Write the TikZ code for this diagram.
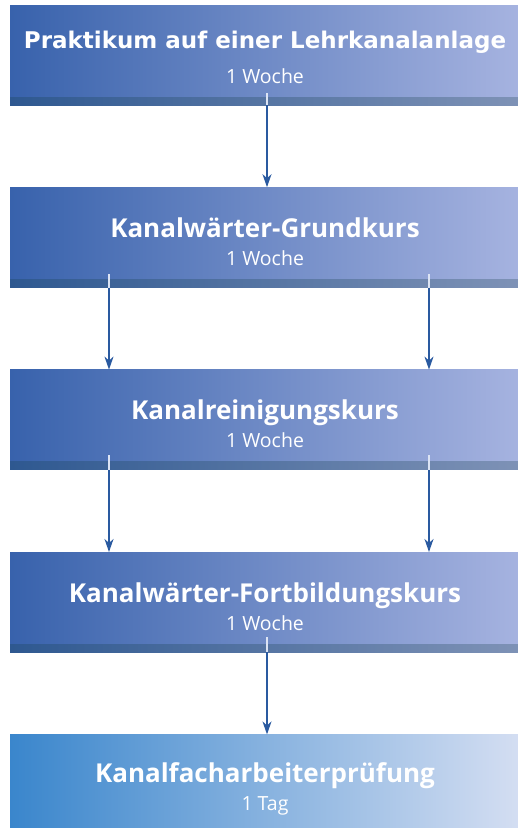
\documentclass[tikz,border=0pt]{standalone}
\usepackage{fontspec}
\setmainfont{Open Sans}
\newfontfamily\wideface{DejaVu Sans}
\usetikzlibrary{positioning,arrows.meta}
\definecolor{boxdark}{HTML}{3862AC}
\definecolor{boxlight}{HTML}{A6B3E0}
\definecolor{banddark}{HTML}{2E5890}
\definecolor{bandlight}{HTML}{7E92B6}
\definecolor{examdark}{HTML}{3A86CC}
\definecolor{examlight}{HTML}{D4DEF2}
\definecolor{arrowblue}{HTML}{2A5AA0}
\definecolor{stubwhite}{HTML}{DCE4F4}
\newcommand{\kurs}[2]{{\bfseries\fontsize{26}{28}\selectfont\rule{0pt}{28pt}#1}\\{#2}}
\tikzset{
  course/.style={rectangle,minimum width=510pt,minimum height=100pt,inner sep=0pt,
    text=white,align=center,font=\fontsize{19.5}{28}\selectfont,
    left color=boxdark,right color=boxlight,
    path picture={\shade[left color=banddark,right color=bandlight]
      (path picture bounding box.south west) rectangle ([yshift=8pt]path picture bounding box.south east);}},
  exam/.style={course,left color=examdark,right color=examlight,path picture={}},
  flow/.style={draw=arrowblue,line width=1.5pt,-{Stealth[length=13pt,width=9pt,inset=4pt]}},
  stub/.style={draw=stubwhite,line width=1.5pt}
}
\begin{document}
\begin{tikzpicture}[node distance=82pt]
  \useasboundingbox (0,0) rectangle (518pt,-828pt);
  \node[course] (praktikum) at (265pt,-55pt) {{\wideface\bfseries\fontsize{23}{28}\selectfont\rule{0pt}{22pt}Praktikum auf einer Lehrkanalanlage}\\[7pt]1 Woche};
  \node[course,below=of praktikum] (grundkurs) {\kurs{Kanalwärter-Grundkurs}{1 Woche}};
  \node[course,below=of grundkurs] (reinigung) {\kurs{Kanalreinigungskurs}{1 Woche}};
  \node[course,below=of reinigung] (fortbildung) {\kurs{Kanalwärter-Fortbildungskurs}{1 Woche}};
  \node[exam,below=of fortbildung] (pruefung) {\kurs{Kanalfacharbeiterprüfung}{1 Tag}};
  % stubs inside the boxes
  \draw[stub] ([xshift=2pt]praktikum.south) -- ++(0,12pt);
  \draw[stub] ([xshift=-156pt]grundkurs.south) -- ++(0,14pt);
  \draw[stub] ([xshift=164pt]grundkurs.south) -- ++(0,14pt);
  \draw[stub] ([xshift=-156pt]reinigung.south) -- ++(0,15pt);
  \draw[stub] ([xshift=164pt]reinigung.south) -- ++(0,15pt);
  \draw[stub] ([xshift=2pt]fortbildung.south) -- ++(0,15pt);
  % arrows
  \draw[flow] ([xshift=2pt]praktikum.south) -- ([xshift=2pt]grundkurs.north);
  \draw[flow] ([xshift=-156pt]grundkurs.south) -- ([xshift=-156pt]reinigung.north);
  \draw[flow] ([xshift=164pt]grundkurs.south) -- ([xshift=164pt]reinigung.north);
  \draw[flow] ([xshift=-156pt]reinigung.south) -- ([xshift=-156pt]fortbildung.north);
  \draw[flow] ([xshift=164pt]reinigung.south) -- ([xshift=164pt]fortbildung.north);
  \draw[flow] ([xshift=2pt]fortbildung.south) -- ([xshift=2pt]pruefung.north);
\end{tikzpicture}
\end{document}
